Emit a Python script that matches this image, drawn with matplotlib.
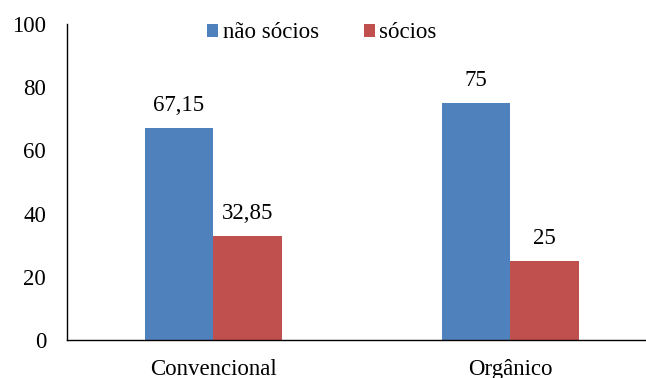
import matplotlib
matplotlib.use("Agg")
import matplotlib.pyplot as plt
import numpy as np

categories = ["Convencional", "Orgânico"]
nao_socios = [67.15, 75]
socios = [32.85, 25]
series_names = ["não sócios", "sócios"]
yticks = [0, 20, 40, 60, 80, 100]

plt.rcParams['font.family'] = ['Liberation Serif', 'DejaVu Serif']
fs = 16.5

fig = plt.figure(figsize=(6.46, 3.78), dpi=100)
ax = fig.add_axes([67/646, 38/378, 594/646, 316/378])

x = np.arange(len(categories))
w = 0.232
b1 = ax.bar(x - w/2, nao_socios, w, color="#4F81BD", label=series_names[0])
b2 = ax.bar(x + w/2, socios, w, color="#C0504D", label=series_names[1])

def fmt(v):
    s = f"{v:.2f}".rstrip("0").rstrip(".")
    return s.replace(".", ",")

ax.bar_label(b1, labels=[fmt(v) for v in nao_socios], padding=8.5, fontsize=fs)
ax.bar_label(b2, labels=[fmt(v) for v in socios], padding=8.5, fontsize=fs)

ax.set_xlim(-0.493, 1.507)
ax.set_ylim(0, 100)
ax.set_yticks(yticks)
ax.set_xticks(x)
ax.set_xticklabels(categories)
ax.tick_params(axis='both', length=0, labelsize=fs)
ax.tick_params(axis='y', pad=15)
ax.tick_params(axis='x', pad=14)
for s in ["top", "right"]:
    ax.spines[s].set_visible(False)
for s in ["left", "bottom"]:
    ax.spines[s].set_linewidth(1.0)

ax.legend(loc="center left", bbox_to_anchor=(207/646, 1 - 33/378),
          bbox_transform=fig.transFigure, ncol=2, frameon=False, borderpad=0,
          borderaxespad=0, fontsize=fs, handlelength=0.48, handleheight=0.48,
          handletextpad=0.2, columnspacing=1.96)

fig.savefig("out.png", dpi=100)
